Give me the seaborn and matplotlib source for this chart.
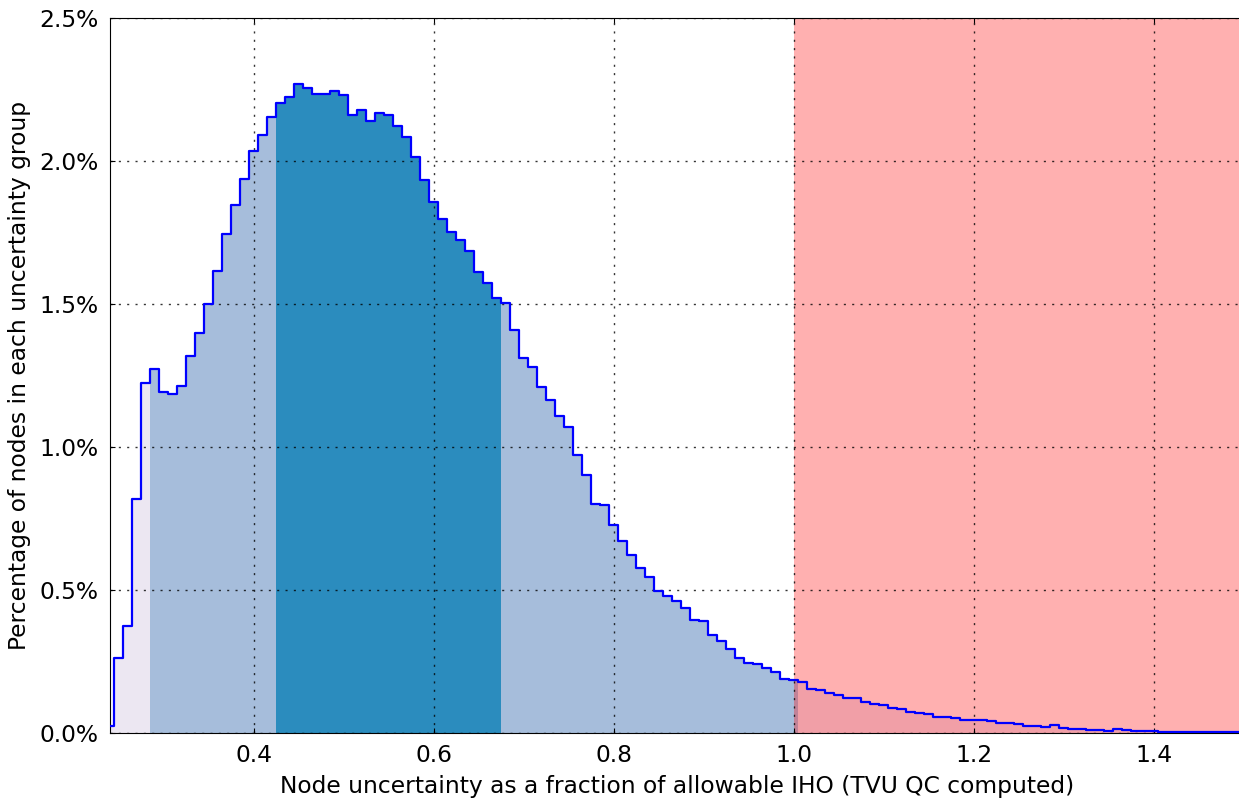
import numpy as np
import pandas as pd
import matplotlib
matplotlib.use("Agg")
import matplotlib.pyplot as plt
import seaborn as sns
from matplotlib.ticker import FormatStrFormatter

# ========== DATA ==========
BIN_START = 0.235
BIN_WIDTH = 0.01

# percentage of nodes in each 0.01-wide uncertainty bin
porcentajes = [
    0.025, 0.263, 0.373, 0.818, 1.225, 1.274, 1.191, 1.184, 1.214, 1.320,
    1.399, 1.500, 1.617, 1.746, 1.847, 1.937, 2.036, 2.092, 2.153, 2.204,
    2.225, 2.269, 2.256, 2.233, 2.233, 2.245, 2.231, 2.161, 2.177, 2.141,
    2.168, 2.161, 2.124, 2.085, 2.014, 1.933, 1.857, 1.796, 1.753, 1.724,
    1.685, 1.613, 1.572, 1.522, 1.502, 1.409, 1.310, 1.279, 1.211, 1.164,
    1.110, 1.071, 0.972, 0.902, 0.801, 0.799, 0.727, 0.673, 0.621, 0.578,
    0.544, 0.496, 0.480, 0.463, 0.438, 0.395, 0.393, 0.343, 0.321, 0.294,
    0.261, 0.245, 0.240, 0.226, 0.212, 0.190, 0.184, 0.179, 0.155, 0.150,
    0.139, 0.132, 0.121, 0.121, 0.107, 0.101, 0.097, 0.089, 0.085, 0.074,
    0.070, 0.066, 0.057, 0.056, 0.053, 0.047, 0.047, 0.047, 0.041, 0.034,
    0.034, 0.033, 0.026, 0.026, 0.022, 0.027, 0.019, 0.015, 0.014, 0.011,
    0.011, 0.007, 0.013, 0.009, 0.008, 0.008, 0.008, 0.005, 0.005, 0.005,
    0.005, 0.004, 0.003, 0.003, 0.002, 0.002, 0.002,
]

# shaded groups under the curve (bin edges where colour changes)
limites_regiones = [0.235, 0.285, 0.425, 0.675, 1.005, 1.505]
colores_regiones = ["#ece7f2", "#a6bddb", "#2b8cbe", "#a6bddb", "#ece7f2"]

LIMITE_IHO = 1.0
XLIM = (0.24, 1.5)
YLIM = (0.0, 2.5)
yticks = [0.0, 0.5, 1.0, 1.5, 2.0, 2.5]
xticks = [0.4, 0.6, 0.8, 1.0, 1.2, 1.4]

# ========== TABLE ==========
n = len(porcentajes)
bordes = np.round(BIN_START + BIN_WIDTH * np.arange(n + 1), 3)
df = pd.DataFrame({
    "inicio": bordes[:-1],
    "centro": bordes[:-1] + BIN_WIDTH / 2,
    "pct": porcentajes,
})

# ========== STYLE ==========
sns.set_style("white", rc={
    "axes.edgecolor": "black",
    "axes.linewidth": 1.5,
    "axes.axisbelow": False,
    "xtick.direction": "in",
    "ytick.direction": "in",
    "xtick.top": True,
    "ytick.right": True,
    "xtick.bottom": True,
    "ytick.left": True,
    "xtick.major.size": 6,
    "ytick.major.size": 6,
    "xtick.major.width": 1,
    "ytick.major.width": 1,
    "xtick.color": "black",
    "ytick.color": "black",
    "text.color": "black",
    "axes.labelcolor": "black",
})
plt.rcParams["font.family"] = ["DejaVu Sans"]

fig = plt.figure(figsize=(12.39, 8.02), dpi=100)
ax = fig.add_axes([0.0885, 0.086, 0.9153, 0.8915])

# ========== FILLS ==========
for i, color in enumerate(colores_regiones):
    lo, hi = limites_regiones[i], limites_regiones[i + 1]
    sub = df[(df["inicio"] >= lo - 1e-9) & (df["inicio"] < hi - 1e-9)]
    bins_sub = [float(b) for b in bordes if lo - 1e-9 <= b <= hi + 1e-9]
    sns.histplot(data=sub, x="centro", weights="pct", bins=bins_sub,
                 element="step", fill=True, color=color, alpha=1,
                 linewidth=0, ax=ax)

# red zone beyond the allowable IHO
ax.axvspan(LIMITE_IHO, XLIM[1] + 0.1, color="red", alpha=0.31, linewidth=0)

# outline of the histogram
sns.histplot(data=df, x="centro", weights="pct", bins=[float(b) for b in bordes],
             element="step", fill=False, color="blue", linewidth=1.6, ax=ax)
for linea in ax.lines:
    linea.set_zorder(3)

# ========== AXES ==========
ax.set_xlim(*XLIM)
ax.set_ylim(*YLIM)
ax.set_xticks(xticks)
ax.set_yticks(yticks)
ax.yaxis.set_major_formatter(FormatStrFormatter("%.1f%%"))
ax.tick_params(labelsize=16.8, pad=8)
ax.grid(True, color="black", linestyle=(0, (1.5, 4.5)), linewidth=1, alpha=0.8)
ax.set_xlabel("Node uncertainty as a fraction of allowable IHO (TVU QC computed)",
              fontsize=16.8, labelpad=6)
ax.set_ylabel("Percentage of nodes in each uncertainty group", fontsize=16.8, labelpad=6)

fig.savefig("out.png", dpi=100)
